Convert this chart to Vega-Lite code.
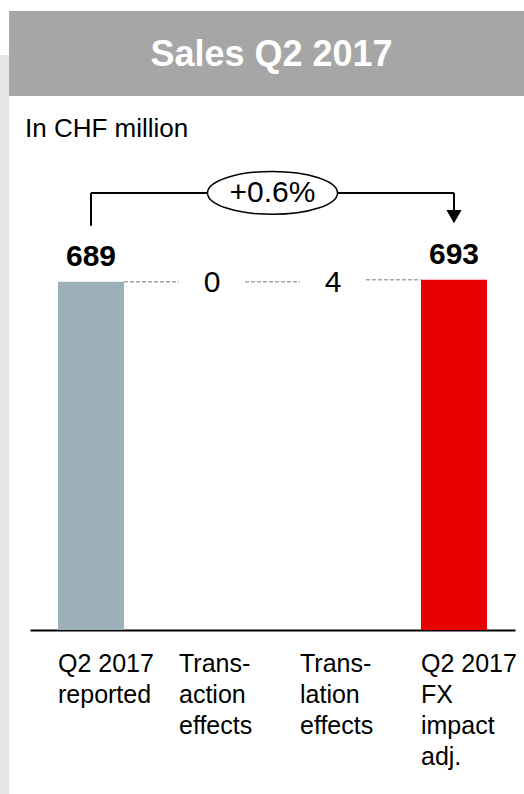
{
  "$schema": "https://vega.github.io/schema/vega-lite/v6.json",
  "width": 485,
  "height": 619,
  "autosize": "none",
  "padding": {"left": 30, "right": 9, "top": 11, "bottom": 164},
  "background": "white",
  "config": {
    "view": {"stroke": null},
    "font": "Liberation Sans",
    "text": {"font": "Liberation Sans"}
  },
  "datasets": {
    "steps": [
      {"cat": "Q2 2017|reported", "kind": "reported", "start": 0, "end": 689, "label": "689"},
      {"cat": "Trans-|action|effects", "kind": "effect", "start": 689, "end": 689, "label": "0"},
      {"cat": "Trans-|lation|effects", "kind": "effect", "start": 689, "end": 693, "label": "4"},
      {"cat": "Q2 2017|FX|impact|adj.", "kind": "adjusted", "start": 0, "end": 693, "label": "693"}
    ],
    "links": [
      {"from": "Q2 2017|reported", "to": "Trans-|action|effects", "level": 689},
      {"from": "Trans-|action|effects", "to": "Trans-|lation|effects", "level": 689},
      {"from": "Trans-|lation|effects", "to": "Q2 2017|FX|impact|adj.", "level": 693}
    ],
    "change": [
      {"from": "Q2 2017|reported", "to": "Q2 2017|FX|impact|adj.", "pct": "+0.6%", "title": "Sales Q2 2017", "unit": "In CHF million"}
    ]
  },
  "layer": [
    {
      "data": {"name": "steps"},
      "transform": [{"filter": "datum.kind != 'effect'"}],
      "mark": {"type": "bar"},
      "encoding": {
        "x": {
          "field": "cat",
          "type": "nominal",
          "sort": null,
          "scale": {
            "domain": ["Q2 2017|reported", "Trans-|action|effects", "Trans-|lation|effects", "Q2 2017|FX|impact|adj."],
            "paddingInner": 0.4545,
            "paddingOuter": 0.2315
          },
          "axis": {
            "title": null,
            "ticks": false,
            "labelAngle": 0,
            "labelAlign": "left",
            "labelBaseline": "top",
            "labelOffset": -33,
            "labelPadding": 21,
            "labelFontSize": 25,
            "labelLineHeight": 31,
            "labelColor": "black",
            "labelFont": "Liberation Sans",
            "labelLimit": 300,
            "labelExpr": "split(datum.value, '|')",
            "domainColor": "black",
            "domainWidth": 2
          }
        },
        "y": {"field": "end", "type": "quantitative", "scale": {"domain": [0, 1225], "nice": false, "zero": false}, "axis": null},
        "y2": {"field": "start"},
        "color": {
          "field": "kind",
          "type": "nominal",
          "scale": {"domain": ["reported", "adjusted"], "range": ["#9cb0b8", "#e60000"]},
          "legend": null
        }
      }
    },
    {
      "data": {"name": "change"},
      "mark": {"type": "rect", "color": "#e6e6e6"},
      "encoding": {
        "x": {"datum": "Q2 2017|reported", "type": "nominal", "bandPosition": -0.879},
        "x2": {"datum": "Q2 2017|reported", "bandPosition": -0.742},
        "y": {"datum": 1138, "type": "quantitative"},
        "y2": {"datum": -325}
      }
    },
    {
      "data": {"name": "change"},
      "mark": {"type": "rect", "color": "#a6a6a6"},
      "encoding": {
        "x": {"datum": "Q2 2017|reported", "type": "nominal", "bandPosition": -0.742},
        "x2": {"datum": "Q2 2017|FX|impact|adj.", "bandPosition": 1.561},
        "y": {"datum": 1057, "type": "quantitative"},
        "y2": {"datum": 1225}
      }
    },
    {
      "data": {"name": "change"},
      "mark": {"type": "text", "color": "white", "fontSize": 36, "fontWeight": "bold", "baseline": "middle", "align": "center", "dx": -1},
      "encoding": {
        "y": {"datum": 1138, "type": "quantitative"},
        "text": {"field": "title"}
      }
    },
    {
      "data": {"name": "change"},
      "mark": {"type": "text", "color": "black", "fontSize": 26, "baseline": "alphabetic", "align": "left"},
      "encoding": {
        "x": {"datum": "Q2 2017|reported", "type": "nominal", "bandPosition": -0.5},
        "y": {"datum": 976, "type": "quantitative"},
        "text": {"field": "unit"}
      }
    },
    {
      "data": {"name": "links"},
      "mark": {"type": "rule", "color": "#7a7a7a", "strokeWidth": 1, "strokeDash": [4, 2]},
      "encoding": {
        "x": {"field": "from", "type": "nominal", "bandPosition": 1},
        "x2": {"field": "to", "bandPosition": 0},
        "y": {"field": "level", "type": "quantitative"}
      }
    },
    {
      "data": {"name": "steps"},
      "transform": [{"filter": "datum.kind != 'effect'"}],
      "mark": {"type": "text", "fontSize": 30, "fontWeight": "bold", "color": "black", "baseline": "alphabetic", "dy": -16},
      "encoding": {
        "x": {"field": "cat", "type": "nominal"},
        "y": {"field": "end", "type": "quantitative"},
        "text": {"field": "label"}
      }
    },
    {
      "data": {"name": "steps"},
      "transform": [{"filter": "datum.kind == 'effect'"}],
      "mark": {"type": "text", "fontSize": 30, "color": "black", "baseline": "middle", "dy": 1},
      "encoding": {
        "x": {"field": "cat", "type": "nominal"},
        "y": {"field": "start", "type": "quantitative"},
        "text": {"field": "label"}
      }
    },
    {
      "data": {"name": "change"},
      "mark": {"type": "rule", "color": "black", "strokeWidth": 2},
      "encoding": {
        "x": {"field": "from", "type": "nominal"},
        "y": {"datum": 800, "type": "quantitative"},
        "y2": {"datum": 865}
      }
    },
    {
      "data": {"name": "change"},
      "mark": {"type": "rule", "color": "black", "strokeWidth": 2},
      "encoding": {
        "x": {"field": "from", "type": "nominal"},
        "x2": {"field": "to"},
        "y": {"datum": 865, "type": "quantitative"}
      }
    },
    {
      "data": {"name": "change"},
      "mark": {"type": "rule", "color": "black", "strokeWidth": 2},
      "encoding": {
        "x": {"field": "to", "type": "nominal"},
        "y": {"datum": 865, "type": "quantitative"},
        "y2": {"datum": 828}
      }
    },
    {
      "data": {"name": "change"},
      "mark": {"type": "point", "shape": "triangle-down", "filled": true, "color": "black", "size": 230, "opacity": 1},
      "encoding": {
        "x": {"field": "to", "type": "nominal"},
        "y": {"datum": 818, "type": "quantitative"}
      }
    },
    {
      "data": {"name": "change"},
      "mark": {"type": "point", "shape": "M-1,0A1,0.33 0 1,1 1,0A1,0.33 0 1,1 -1,0Z", "filled": false, "fill": "white", "fillOpacity": 1, "stroke": "black", "strokeWidth": 1.5, "size": 16900, "opacity": 1},
      "encoding": {
        "y": {"datum": 865, "type": "quantitative"}
      }
    },
    {
      "data": {"name": "change"},
      "mark": {"type": "text", "fontSize": 30, "color": "black", "baseline": "middle", "align": "center"},
      "encoding": {
        "y": {"datum": 865, "type": "quantitative"},
        "text": {"field": "pct"}
      }
    }
  ]
}
